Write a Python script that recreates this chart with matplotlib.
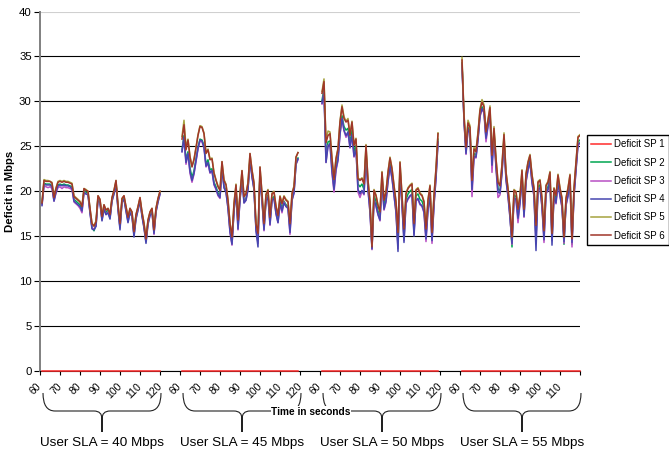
import numpy as np
import matplotlib
matplotlib.use("Agg")
import matplotlib.pyplot as plt
from matplotlib.path import Path
from matplotlib.patches import PathPatch
from matplotlib.transforms import blended_transform_factory, ScaledTranslation

# deficit (Mbps) per second, t = 61 s onwards, one list per SP and per SLA run
sla40_sp6 = [18.7, 21.2, 21.1, 21.1, 21.1, 20.9, 19.3, 20.3, 21.0, 21.1,
             21.0, 21.1, 21.0, 21.0, 20.9, 20.8, 19.4, 19.2, 19.0, 18.8,
             18.3, 20.3, 20.1, 20.0, 18.1, 16.4, 16.1, 16.6, 19.5, 19.1,
             17.2, 18.5, 17.9, 18.1, 17.4, 19.3, 20.1, 21.2, 18.5, 16.4,
             19.2, 19.5, 18.3, 17.1, 18.1, 17.7, 15.5, 17.4, 18.3, 19.3,
             17.7, 16.4, 14.7, 16.8, 17.7, 18.1, 15.7, 18.1, 19.2, 20.0]
sla40_sp5 = [18.8, 21.3, 21.2, 21.2, 21.1, 21.0, 19.4, 20.4, 21.1, 21.2,
             21.1, 21.2, 21.1, 21.1, 21.0, 20.9, 19.5, 19.3, 19.1, 18.9,
             18.4, 20.3, 20.2, 20.0, 18.1, 16.4, 16.2, 16.7, 19.5, 19.1,
             17.3, 18.5, 17.9, 18.1, 17.5, 19.3, 20.1, 21.2, 18.5, 16.5,
             19.2, 19.5, 18.3, 17.2, 18.1, 17.7, 15.6, 17.4, 18.3, 19.3,
             17.7, 16.5, 14.8, 16.8, 17.7, 18.1, 15.8, 18.1, 19.2, 20.0]
sla40_sp2 = [18.6, 20.9, 20.8, 20.8, 20.8, 20.6, 19.1, 20.0, 20.7, 20.8,
             20.7, 20.8, 20.7, 20.7, 20.6, 20.5, 19.1, 18.9, 18.7, 18.5,
             18.0, 20.1, 19.9, 19.8, 17.8, 16.0, 15.6, 16.3, 19.3, 18.9,
             16.9, 18.3, 17.6, 17.9, 17.1, 19.1, 19.9, 21.0, 18.2, 16.0,
             19.0, 19.3, 18.0, 16.8, 17.9, 17.4, 15.2, 17.2, 18.1, 19.1,
             17.4, 16.1, 14.4, 16.6, 17.5, 17.9, 15.4, 17.9, 19.0, 19.8]
sla40_sp3 = [18.5, 20.6, 20.5, 20.4, 20.5, 20.3, 18.9, 19.8, 20.4, 20.5,
             20.3, 20.5, 20.4, 20.4, 20.3, 20.2, 18.8, 18.6, 18.4, 18.1,
             17.6, 19.9, 19.7, 19.6, 17.6, 15.9, 15.8, 16.1, 19.1, 18.7,
             16.8, 18.1, 17.4, 17.7, 17.0, 18.9, 19.7, 20.8, 18.0, 15.9,
             18.8, 19.1, 17.8, 16.6, 17.7, 17.2, 15.1, 17.0, 17.9, 18.9,
             17.3, 16.0, 14.4, 16.4, 17.3, 17.7, 15.2, 17.7, 18.8, 19.7]
sla40_sp4 = [18.4, 20.8, 20.7, 20.7, 20.7, 20.5, 18.9, 19.9, 20.6, 20.7,
             20.6, 20.7, 20.6, 20.6, 20.5, 20.3, 18.9, 18.7, 18.5, 18.3,
             17.8, 19.9, 19.7, 19.6, 17.6, 15.8, 15.7, 16.1, 19.1, 18.7,
             16.7, 18.0, 17.4, 17.6, 16.9, 18.9, 19.7, 20.8, 18.0, 15.7,
             18.8, 19.1, 17.8, 16.5, 17.6, 17.2, 14.9, 16.9, 17.9, 18.9,
             17.2, 15.9, 14.2, 16.3, 17.3, 17.7, 15.3, 17.7, 18.8, 19.7]

sla45_sp6 = [25.8, 27.4, 24.6, 25.7, 23.8, 22.7, 23.5, 24.8, 26.2, 27.2,
             27.1, 26.4, 24.2, 24.6, 23.5, 23.6, 22.0, 21.2, 20.5, 20.1,
             23.3, 21.2, 20.7, 19.0, 16.4, 14.9, 18.6, 20.7, 16.8, 19.7,
             22.3, 19.4, 19.7, 20.9, 24.2, 22.3, 20.9, 16.4, 15.3, 22.7,
             19.7, 16.4, 19.6, 20.1, 17.1, 19.7, 19.9, 18.3, 17.3, 19.4,
             18.6, 19.4, 19.0, 18.8, 16.4, 19.7, 20.5, 23.8, 24.3]
sla45_sp5 = [26.1, 27.9, 24.9, 25.8, 23.9, 22.8, 23.6, 24.9, 26.3, 27.3,
             27.2, 26.5, 24.3, 24.7, 23.6, 23.7, 22.1, 21.3, 20.6, 20.2,
             23.3, 21.3, 20.8, 19.1, 16.5, 15.0, 18.7, 20.8, 16.9, 19.8,
             22.3, 19.5, 19.8, 21.0, 24.2, 22.4, 21.0, 16.5, 15.4, 22.7,
             19.8, 16.5, 19.7, 20.2, 17.2, 19.8, 20.0, 18.4, 17.4, 19.5,
             18.7, 19.5, 19.1, 18.9, 16.5, 19.8, 20.6, 23.8, 24.3]
sla45_sp2 = [24.6, 26.2, 23.5, 24.4, 22.6, 21.5, 22.3, 23.6, 24.9, 25.8,
             25.7, 25.1, 23.0, 23.5, 22.4, 22.5, 21.0, 20.5, 19.8, 19.5,
             22.7, 20.6, 20.1, 18.4, 15.8, 14.2, 18.0, 20.1, 16.3, 19.2,
             21.7, 18.9, 19.2, 20.4, 23.6, 21.8, 20.4, 15.9, 14.6, 22.1,
             19.2, 15.9, 19.1, 19.6, 16.6, 19.2, 19.4, 17.8, 16.8, 18.9,
             18.1, 18.9, 18.5, 18.3, 15.8, 19.2, 20.0, 23.2, 23.7]
sla45_sp3 = [24.4, 25.9, 23.0, 24.2, 22.0, 21.0, 21.9, 23.3, 24.7, 25.6,
             25.5, 24.8, 22.7, 23.1, 22.0, 22.2, 20.7, 20.2, 19.5, 19.2,
             22.6, 20.4, 19.9, 18.1, 15.4, 14.0, 17.8, 20.0, 15.7, 19.0,
             21.6, 18.7, 19.0, 20.2, 23.5, 21.6, 20.2, 15.7, 14.2, 22.0,
             19.0, 15.6, 19.0, 19.4, 16.2, 19.0, 19.2, 17.5, 16.5, 18.6,
             17.6, 18.8, 18.3, 18.1, 15.2, 19.0, 19.8, 23.0, 23.5]
sla45_sp4 = [24.4, 26.0, 23.2, 24.2, 22.2, 21.2, 22.0, 23.4, 24.8, 25.7,
             25.6, 24.9, 22.8, 23.2, 22.1, 22.3, 20.8, 20.3, 19.6, 19.3,
             22.6, 20.4, 19.9, 18.1, 15.5, 14.1, 17.8, 20.0, 15.8, 19.0,
             21.6, 18.7, 19.0, 20.2, 23.5, 21.6, 20.2, 15.6, 13.8, 22.0,
             19.0, 15.7, 18.9, 19.4, 16.3, 19.0, 19.2, 17.5, 16.5, 18.7,
             17.8, 18.7, 18.3, 18.1, 15.4, 19.0, 19.8, 23.0, 23.6]

sla50_sp6 = [30.9, 32.2, 25.4, 26.2, 26.4, 23.6, 21.3, 23.6, 24.7, 27.7,
             29.4, 28.1, 27.7, 27.9, 26.2, 27.7, 25.1, 25.8, 21.4, 21.2,
             21.4, 20.8, 25.1, 21.2, 18.8, 13.8, 20.1, 19.5, 18.4, 17.7,
             22.1, 19.0, 19.9, 22.1, 23.7, 22.5, 20.6, 18.8, 15.4, 23.2,
             19.5, 15.8, 19.7, 20.3, 20.6, 20.8, 16.4, 20.1, 20.3, 19.7,
             19.5, 18.8, 15.8, 19.0, 20.6, 15.4, 19.5, 22.5, 26.4]
sla50_sp5 = [31.1, 32.5, 25.6, 26.7, 26.6, 23.7, 21.4, 23.7, 24.8, 27.8,
             29.6, 28.3, 27.8, 28.1, 26.3, 27.8, 25.2, 25.9, 21.5, 21.3,
             21.5, 20.9, 25.2, 21.3, 18.9, 14.0, 20.2, 19.6, 18.5, 17.8,
             22.2, 19.1, 20.0, 22.2, 23.8, 22.6, 20.7, 18.9, 15.5, 23.3,
             19.6, 16.0, 19.8, 20.4, 20.7, 20.9, 16.6, 20.2, 20.4, 19.8,
             19.6, 18.9, 15.9, 19.1, 20.7, 15.5, 19.6, 22.6, 26.5]
sla50_sp2 = [30.1, 31.4, 23.9, 25.5, 25.6, 22.7, 20.5, 22.8, 23.9, 26.8,
             28.4, 27.2, 26.8, 27.0, 25.4, 26.8, 24.4, 25.1, 20.8, 20.5,
             20.8, 20.2, 24.5, 20.6, 18.2, 13.6, 19.5, 18.9, 17.8, 17.1,
             21.5, 18.4, 19.3, 21.5, 23.1, 21.9, 20.0, 18.1, 14.0, 22.6,
             18.9, 14.8, 19.1, 19.7, 20.0, 20.2, 15.5, 19.5, 19.7, 19.1,
             18.9, 18.2, 15.0, 18.4, 20.0, 14.7, 18.9, 21.9, 25.8]
sla50_sp3 = [29.7, 31.0, 23.2, 25.1, 25.2, 22.0, 19.9, 22.3, 23.4, 26.3,
             28.1, 26.7, 26.0, 26.5, 24.8, 26.2, 23.8, 24.6, 19.9, 19.3,
             20.0, 19.6, 24.0, 20.1, 17.6, 13.5, 19.0, 18.3, 17.4, 16.7,
             21.0, 17.9, 18.8, 21.0, 22.7, 21.4, 19.5, 17.6, 13.6, 22.2,
             18.4, 14.5, 18.6, 19.1, 19.4, 19.6, 15.2, 18.9, 19.1, 18.5,
             18.3, 17.6, 14.4, 17.9, 19.4, 14.2, 18.4, 21.4, 25.4]
sla50_sp4 = [29.8, 31.0, 23.2, 25.0, 25.3, 22.2, 20.2, 22.5, 23.5, 26.4,
             28.1, 26.8, 26.2, 26.6, 24.9, 26.3, 23.9, 24.7, 20.2, 19.7,
             20.1, 19.7, 24.1, 20.2, 17.7, 13.6, 19.1, 18.4, 17.4, 16.8,
             21.1, 18.0, 18.9, 21.1, 22.8, 21.5, 19.6, 17.7, 13.3, 22.3,
             18.5, 14.3, 18.7, 19.2, 19.5, 19.7, 15.0, 19.0, 19.2, 18.6,
             18.4, 17.7, 14.7, 18.0, 19.5, 14.5, 18.5, 21.5, 25.5]

sla55_sp6 = [34.6, 28.4, 24.9, 27.6, 27.1, 21.2, 24.7, 24.4, 26.4, 29.0,
             29.9, 29.4, 26.6, 27.9, 29.3, 24.0, 27.0, 23.6, 21.0, 20.6,
             22.9, 26.3, 22.1, 20.3, 18.0, 14.9, 20.1, 19.9, 18.0, 19.5,
             22.3, 18.0, 21.9, 23.2, 24.0, 21.8, 20.3, 16.2, 21.0, 21.2,
             19.2, 15.6, 20.6, 21.0, 22.1, 15.3, 20.3, 19.5, 21.8, 20.3,
             19.2, 14.9, 19.2, 20.3, 21.8, 14.7, 20.3, 23.2, 26.0, 26.2]
sla55_sp5 = [34.9, 28.6, 25.1, 27.9, 27.3, 21.3, 24.9, 24.6, 26.6, 29.2,
             30.2, 29.6, 26.7, 28.0, 29.5, 24.1, 27.2, 23.7, 21.1, 20.7,
             23.0, 26.5, 22.2, 20.4, 18.1, 15.0, 20.2, 20.0, 18.1, 19.6,
             22.4, 18.1, 22.0, 23.3, 24.1, 21.9, 20.4, 16.3, 21.1, 21.3,
             19.3, 15.7, 20.7, 21.1, 22.2, 15.4, 20.4, 19.6, 21.9, 20.4,
             19.3, 15.0, 19.3, 20.4, 21.9, 14.8, 20.4, 23.3, 26.1, 26.3]
sla55_sp2 = [34.3, 28.0, 24.4, 27.1, 26.7, 20.5, 24.2, 24.0, 26.0, 28.6,
             29.4, 29.0, 26.0, 27.5, 28.8, 23.2, 26.6, 23.0, 20.3, 20.0,
             22.4, 25.9, 21.6, 19.8, 17.4, 13.8, 19.6, 19.4, 17.4, 19.0,
             21.8, 17.4, 21.4, 22.7, 23.6, 21.3, 19.8, 14.8, 20.5, 20.7,
             18.6, 14.9, 20.1, 20.5, 21.6, 14.6, 19.8, 19.0, 21.3, 19.8,
             18.6, 14.1, 18.7, 19.8, 21.3, 14.1, 19.8, 22.7, 25.5, 25.7]
sla55_sp3 = [34.1, 27.8, 24.1, 26.8, 26.4, 19.4, 23.8, 23.7, 25.7, 28.3,
             29.1, 28.7, 25.5, 27.2, 28.5, 22.1, 26.3, 22.6, 19.3, 19.6,
             22.0, 25.6, 21.2, 19.4, 17.0, 14.1, 19.2, 19.0, 16.5, 18.6,
             21.4, 17.1, 21.0, 22.3, 23.2, 20.9, 19.4, 14.2, 20.1, 20.3,
             18.2, 14.3, 19.7, 20.1, 21.2, 14.5, 19.4, 18.6, 20.9, 19.4,
             18.2, 14.2, 18.4, 19.4, 20.9, 13.8, 19.4, 22.3, 25.1, 25.3]
sla55_sp4 = [34.2, 27.9, 24.2, 26.9, 26.5, 20.2, 23.9, 23.8, 25.8, 28.4,
             29.2, 28.8, 25.9, 27.3, 28.6, 22.9, 26.4, 22.7, 19.9, 19.8,
             22.1, 25.7, 21.3, 19.5, 17.1, 14.2, 19.3, 19.1, 17.0, 18.7,
             21.5, 17.2, 21.1, 22.4, 23.3, 21.0, 19.5, 13.4, 20.2, 20.4,
             18.3, 14.6, 19.8, 20.2, 21.3, 14.0, 19.5, 18.7, 21.0, 19.5,
             18.3, 14.4, 18.5, 19.5, 21.0, 14.3, 19.5, 22.4, 25.2, 25.4]

# SP 1 never has a deficit
sla40_sp1 = [0.0] * len(sla40_sp6)
sla45_sp1 = [0.0] * len(sla45_sp6)
sla50_sp1 = [0.0] * len(sla50_sp6)
sla55_sp1 = [0.0] * len(sla55_sp6)

sla_labels = ["User SLA = 40 Mbps", "User SLA = 45 Mbps",
              "User SLA = 50 Mbps", "User SLA = 55 Mbps"]
sp_names = ["Deficit SP 1", "Deficit SP 2", "Deficit SP 3",
            "Deficit SP 4", "Deficit SP 5", "Deficit SP 6"]
x_tick_labels = (["60", "70", "80", "90", "100", "110", "120"] * 3
                 + ["60", "70", "80", "90", "100", "110", ""])

runs = [
    [sla40_sp1, sla40_sp2, sla40_sp3, sla40_sp4, sla40_sp5, sla40_sp6],
    [sla45_sp1, sla45_sp2, sla45_sp3, sla45_sp4, sla45_sp5, sla45_sp6],
    [sla50_sp1, sla50_sp2, sla50_sp3, sla50_sp4, sla50_sp5, sla50_sp6],
    [sla55_sp1, sla55_sp2, sla55_sp3, sla55_sp4, sla55_sp5, sla55_sp6],
]
colors = ["#ff2b2b", "#00a651", "#b84fc4", "#4646b0", "#a6a33f", "#a0362a"]

plt.rcParams["font.family"] = ["Liberation Sans", "DejaVu Sans"]

W, H = 669, 454
fig = plt.figure(figsize=(W / 100, H / 100), dpi=100)
ax = fig.add_axes([40 / W, 1 - 371 / H, 540 / W, 359.5 / H])

# every run spans t = 60..129 s on a shared category axis (70 slots per run)
slots = 70
for s in range(6):
    for g, run in enumerate(runs):
        vals = run[s]
        t = np.arange(61, 61 + len(vals))
        x = g * slots + (t - 60)
        ax.plot(x, vals, color=colors[s], lw=1.1, zorder=3,
                label=sp_names[s] if g == 0 else None, clip_on=(s != 0))

ax.set_xlim(0, 270)
ax.set_ylim(0, 40)
ax.set_yticks(range(0, 41, 5))
ax.set_xticks(range(0, 271, 10))
ax.set_xticklabels(x_tick_labels, rotation=45, ha="right", va="center",
                   rotation_mode="anchor", fontsize=7.5)
for lab in ax.get_xticklabels():
    lab.set_transform(lab.get_transform() + ScaledTranslation(-5 / 100, 0, fig.dpi_scale_trans))
ax.tick_params(axis="x", length=3, width=0.8, pad=7, color="black")
ax.tick_params(axis="y", length=4, width=0.8, pad=2, labelsize=8.2, color="black")

ax.grid(axis="y", color="black", lw=0.8)
ax.yaxis.get_gridlines()[-1].set_color("#d0d0d0")
ax.set_axisbelow(True)
for side in ("top", "right"):
    ax.spines[side].set_visible(False)
ax.spines["left"].set_color("#808080")
ax.spines["left"].set_linewidth(1.4)
ax.spines["bottom"].set_color("black")
ax.spines["bottom"].set_linewidth(0.8)

ax.set_ylabel("Deficit in Mbps", fontsize=8.2, fontweight="bold")
ax.yaxis.set_label_coords(-25 / 540, 0.5)

# braces under each run with the SLA caption
tr = blended_transform_factory(ax.transData, fig.transFigure)
y_top, y_line, y_tip = 1 - 393 / H, 1 - 411 / H, 1 - 432 / H
y_knee = y_line - 8 / H
r = 6
for g, label in enumerate(sla_labels):
    x0 = g * slots + 1.5
    x1 = g * slots + 60.5
    xm = (x0 + x1) / 2
    verts = [(x0, y_top), (x0, y_line), (x0 + r, y_line),
             (xm - 4, y_line), (xm, y_line), (xm, y_knee), (xm, y_tip),
             (xm, y_tip), (xm, y_knee), (xm, y_line), (xm + 4, y_line),
             (x1 - r, y_line), (x1, y_line), (x1, y_top)]
    codes = [Path.MOVETO, Path.CURVE3, Path.CURVE3,
             Path.LINETO, Path.CURVE3, Path.CURVE3, Path.LINETO,
             Path.MOVETO, Path.LINETO, Path.CURVE3, Path.CURVE3,
             Path.LINETO, Path.CURVE3, Path.CURVE3]
    fig.add_artist(PathPatch(Path(verts, codes), transform=tr, fill=False,
                             edgecolor="#222222", lw=0.8))
    fig.text(xm, 1 - 443 / H, label, transform=tr, ha="center", va="center",
             fontsize=9.7)

fig.text(311 / W, 1 - 412 / H, "Time in seconds", ha="center", va="center",
         fontsize=7.3, fontweight="bold",
         bbox=dict(facecolor="white", edgecolor="none", pad=0.5))

fig.legend(loc="upper left", bbox_to_anchor=(587 / W, 1 - 135 / H),
           fontsize=7.0, frameon=True, fancybox=False, edgecolor="black",
           framealpha=1, handlelength=2.0, handletextpad=0.3,
           labelspacing=0.85, borderpad=0.45, borderaxespad=0)

fig.savefig("out.png", dpi=100)
